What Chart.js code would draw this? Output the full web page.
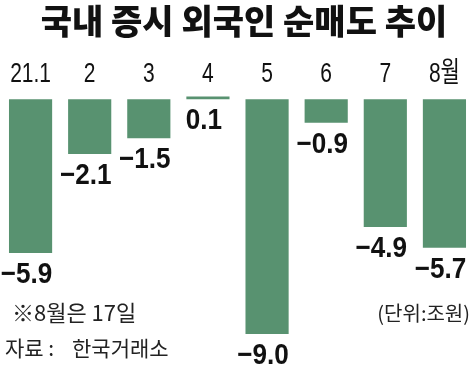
<!DOCTYPE html>
<html>
<head>
<meta charset="utf-8">
<script src="https://cdn.jsdelivr.net/npm/chart.js@4"></script>
<style>
  body { margin: 0; background: #fff; }
  #wrap { width: 474px; height: 369px; }
</style>
</head>
<body>
<div id="wrap"><canvas id="flowChart" width="474" height="369"></canvas></div>
<script>
// Data (unit: trillion won)
const months = ['21.1', '2', '3', '4', '5', '6', '7', '8월'];
const netSales = [-5.9, -2.1, -1.5, 0.1, -9.0, -0.9, -4.9, -5.7];
const titleText = '국내 증시 외국인 순매도 추이';
const noteText = '※8월은 17일';
const sourceText = '자료 : 한국거래소';
const unitText = '(단위:조원)';

const barGreen = 'rgb(88, 146, 112)';
const sans = "'Liberation Sans', 'Noto Sans CJK KR', sans-serif";

function fmt(v) {
  const s = Math.abs(v).toFixed(1);
  return v < 0 ? '\u2212' + s : s;
}

// squeeze text horizontally, the source uses a condensed face
function narrowText(ctx, text, x, y, sx) {
  ctx.save();
  ctx.translate(x, y);
  ctx.scale(sx, 1);
  ctx.fillText(text, 0, 0);
  ctx.restore();
}

// Month labels, value labels under each bar end, footnotes
const labelPlugin = {
  id: 'labelPlugin',
  afterDatasetsDraw(chart) {
    const ctx = chart.ctx;
    const meta = chart.getDatasetMeta(0);
    const xScale = chart.scales.x;
    const zeroY = chart.scales.y.getPixelForValue(0);
    ctx.save();
    ctx.fillStyle = '#111';
    ctx.textAlign = 'center';
    ctx.textBaseline = 'alphabetic';

    ctx.font = "28px " + sans;
    months.forEach((m, i) => {
      narrowText(ctx, m, xScale.getPixelForValue(i), 82, 0.75);
    });

    ctx.font = "bold 29px " + sans;
    meta.data.forEach((bar, i) => {
      const y = Math.max(bar.y, zeroY) + 30;
      narrowText(ctx, fmt(netSales[i]), bar.x - 4, y, 0.9);
    });

    ctx.fillStyle = '#222';
    ctx.textBaseline = 'middle';
    ctx.font = "22px 'Noto Sans CJK KR', sans-serif";
    ctx.textAlign = 'left';
    ctx.fillText(noteText, 12, 313);
    ctx.font = "21px 'Noto Sans CJK KR', sans-serif";
    ctx.fillText(sourceText.split(' 한')[0], 5, 348);
    ctx.fillText('한' + sourceText.split(' 한')[1], 72, 348);
    ctx.font = "20px 'Noto Sans CJK KR', sans-serif";
    ctx.textAlign = 'right';
    ctx.fillText(unitText, 470, 313);

    // title, drawn a little right of centre like the source
    ctx.fillStyle = '#111';
    ctx.textAlign = 'center';
    ctx.font = "900 34px 'Noto Sans CJK KR', sans-serif";
    ctx.fillText(titleText, 244, 21);
    ctx.restore();
  }
};

const ctx = document.getElementById('flowChart').getContext('2d');
const flowChart = new Chart(ctx, {
  type: 'bar',
  data: {
    labels: months,
    datasets: [{
      data: netSales,
      backgroundColor: barGreen,
      borderWidth: 0,
      categoryPercentage: 1,
      barPercentage: 0.73
    }]
  },
  options: {
    responsive: false,
    animation: false,
    layout: { padding: { left: 1, right: 0, top: 0, bottom: 9 } },
    plugins: {
      legend: { display: false },
      tooltip: { enabled: false },
      title: {
        // space for the title text drawn by labelPlugin
        display: true,
        text: titleText,
        color: 'transparent',
        font: { family: "'Noto Sans CJK KR', sans-serif", size: 34, weight: 'bold' },
        padding: { top: 0, bottom: 16 }
      }
    },
    scales: {
      x: {
        position: 'top',
        grid: { display: false, drawTicks: false },
        border: { display: false },
        ticks: {
          // drawn narrowed by labelPlugin, kept here for the layout
          color: 'transparent',
          padding: 3,
          font: { family: sans, size: 26 }
        }
      },
      y: {
        display: true,
        min: -10,
        max: 0.2,
        ticks: { display: false, stepSize: 1 },
        border: { display: false },
        grid: {
          drawTicks: false,
          lineWidth: 1.5,
          color: c => (c.tick && c.tick.value === 0 ? '#9a9a9a' : 'transparent')
        }
      }
    }
  },
  plugins: [labelPlugin]
});
</script>
</body>
</html>
